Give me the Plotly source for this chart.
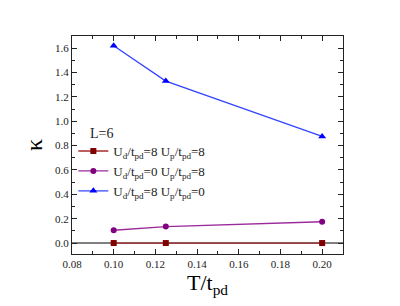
import plotly.graph_objects as go

T = [0.10, 0.125, 0.20]
kappa_88 = [0.0, 0.0, 0.0]
kappa_08 = [0.105, 0.135, 0.175]
kappa_80 = [1.62, 1.33, 0.875]

names = [
    "U<sub>d</sub>/t<sub>pd</sub>=8 U<sub>p</sub>/t<sub>pd</sub>=8",
    "U<sub>d</sub>/t<sub>pd</sub>=0 U<sub>p</sub>/t<sub>pd</sub>=8",
    "U<sub>d</sub>/t<sub>pd</sub>=8 U<sub>p</sub>/t<sub>pd</sub>=0",
]
legend_title = "L=6"

font = "Liberation Serif"

fig = go.Figure()
fig.add_shape(type="line", xref="paper", x0=0, x1=1, yref="y", y0=0, y1=0,
              line=dict(color="#555555", width=1.5), layer="below")

fig.add_trace(go.Scatter(x=T, y=kappa_88, mode="lines+markers", name=names[0],
                         line=dict(color="#a52a2a", width=1.3),
                         marker=dict(symbol="square", size=6, color="#800000")))
fig.add_trace(go.Scatter(x=T, y=kappa_08, mode="lines+markers", name=names[1],
                         line=dict(color="#9a2a9a", width=1.3),
                         marker=dict(symbol="circle", size=6, color="#800080")))
fig.add_trace(go.Scatter(x=T, y=kappa_80, mode="lines+markers", name=names[2],
                         line=dict(color="#3344ff", width=1.3),
                         marker=dict(symbol="triangle-up", size=7, color="#0000ff")))

axis_common = dict(
    showline=True, linecolor="#222222", linewidth=1.3, mirror="ticks",
    ticks="inside", ticklen=5, tickcolor="#222222", tickwidth=1,
    showgrid=False, zeroline=False,
    tickfont=dict(family=font, size=11, color="#222222"),
)

fig.update_xaxes(range=[0.08, 0.21], tick0=0.08, dtick=0.02, tickformat=".2f",
                 minor=dict(ticks="inside", ticklen=3, dtick=0.01, tickcolor="#222222"),
                 title=dict(text="T/t<sub>pd</sub>", font=dict(family=font, size=22, color="#000"), standoff=4),
                 **axis_common)
fig.update_yaxes(range=[-0.09, 1.7], tick0=0, dtick=0.2, tickformat=".1f",
                 minor=dict(ticks="inside", ticklen=3, dtick=0.1, tickcolor="#222222"),
                 title=dict(text="κ", font=dict(family=font, size=24, color="#000"), standoff=5),
                 **axis_common)

fig.add_annotation(text=legend_title, xref="paper", yref="paper", x=0.058, y=0.555,
                   xanchor="left", yanchor="middle", showarrow=False,
                   font=dict(family=font, size=14, color="#222"))

fig.update_layout(
    width=400, height=306,
    font=dict(family=font, color="#222"),
    margin=dict(l=72, r=57, t=36, b=52),
    paper_bgcolor="white", plot_bgcolor="white",
    showlegend=True,
    legend=dict(x=0.005, y=0.541, xanchor="left", yanchor="top",
                bgcolor="rgba(0,0,0,0)", borderwidth=0,
                font=dict(family=font, size=13, color="#222"),
                itemwidth=30, tracegroupgap=2),
)

fig.write_html("out.html", config={"displayModeBar": False},
               post_script="document.body.style.margin='0';document.body.style.overflow='hidden';")
